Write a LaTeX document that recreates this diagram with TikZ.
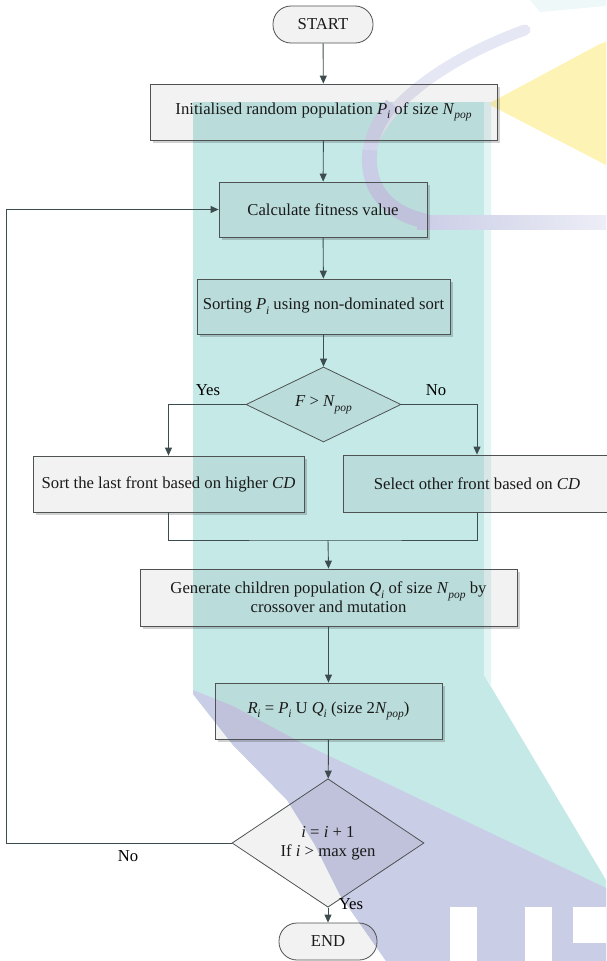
\documentclass[tikz,border=0pt]{standalone}
\usepackage{fontspec}
\setmainfont{Liberation Serif}
\usetikzlibrary{arrows.meta,shapes.geometric,calc}

\definecolor{wmteal}{HTML}{C4E9E7}
\definecolor{wmtealedge}{HTML}{E3F4F4}
\definecolor{wmblue}{HTML}{CACDE6}
\definecolor{wmbluelight}{HTML}{E6E7F4}
\definecolor{wmbluemid}{HTML}{D3D5EC}
\definecolor{wmyellow}{HTML}{FDF3B5}
\definecolor{wmfaint}{HTML}{EEF8F8}
\definecolor{lnk}{HTML}{3D4D4F}
\definecolor{boxline}{HTML}{4E5252}
\definecolor{txt}{HTML}{1A1A1A}

% body text size and subscripted symbols
\newcommand{\mainsz}{\fontsize{16.7}{19}\selectfont}
\newcommand{\isub}[2]{\textit{#1}\kern-0.3pt\raisebox{-0.28em}{\fontsize{11.5}{12}\selectfont\textit{#2}}}
% soft shadow along the lower and right edges of a box
\newcommand{\boxshade}[1]{%
  \draw[shade line] ($(#1.south west)+(3,1.6)$) -- ($(#1.south east)+(1.6,1.6)$) -- ($(#1.north east)+(1.6,3)$);}

\tikzset{
  flowbox/.style={draw=boxline, line width=0.8pt, fill=black, fill opacity=0.05,
    text opacity=1, text=txt, inner sep=0pt, align=center, font=\mainsz},
  termbox/.style={flowbox, rounded corners=18pt},
  decide/.style={flowbox, diamond},
  link/.style={draw=lnk, line width=0.9pt, -{Triangle[length=8pt,width=7pt]}},
  plain/.style={draw=lnk, line width=0.9pt},
  tag/.style={font=\mainsz, text=black, inner sep=0pt},
  shade line/.style={draw=black, draw opacity=0.18, line width=2pt},
}

\begin{document}
\begin{tikzpicture}[x=1pt,y=-1pt]
\useasboundingbox (0,0) rectangle (606,961);

% ---- faint logo watermark in the background ----
\fill[wmfaint] (530,0) -- (606,0) -- (606,6) -- (540,12) -- cycle;
\fill[wmyellow] (488,104) -- (598,45) .. controls (602,43) and (606,42) .. (606,42)
  -- (606,165) -- cycle;
\fill[wmteal] (193,102) -- (484,102) -- (484,675) -- (606,880) -- (606,961) -- (386,961)
  -- (340,895) -- (315,845) -- (287,800) -- (233,745) -- (193,694) -- cycle;
\fill[wmtealedge] (484,102) -- (491,102) -- (491,685) -- (484,675) -- cycle;
\fill[wmblue] (193,690) -- (233,706) -- (300,742) -- (606,888) -- (606,961)
  -- (386,961) -- (340,895) -- (315,845) -- (287,800) -- (233,745) -- (193,694) -- cycle;
\fill[white] (450,907) rectangle (477,961);
\fill[white] (525,907) rectangle (552,961);
\fill[white] (573,907) rectangle (606,943);
% curved stroke of the logo, fading towards its upper end
\draw[wmbluelight, line width=11pt, line cap=round] (525,30) .. controls (455,55) and (385,100) .. (370,150);
\draw[wmbluemid, line width=14pt] (392,104) .. controls (378,122) and (372,136) .. (370,150);
\draw[wmblue, line width=15pt] (370,150) .. controls (365,192) and (392,214) .. (425,221);
\fill[left color=wmblue, right color=wmblue!35] (417,215) rectangle (606,229);

% ---- flowchart steps ----
\node[termbox, minimum width=100pt, minimum height=37pt] (start) at (323,24.5) {START};
\node[flowbox, minimum width=347pt, minimum height=56pt] (init) at (323.5,112)
  {Initialised random population \isub{P}{i} of size \isub{N}{pop}};
\node[flowbox, minimum width=208pt, minimum height=55pt] (calc) at (323,209.5)
  {Calculate fitness value};
\node[flowbox, minimum width=253pt, minimum height=55pt] (sort) at (323.5,306.5)
  {Sorting \isub{P}{i} using non-dominated sort};
\node[decide, minimum width=155pt, minimum height=59pt] (d1) at (323.5,404.5)
  {\textit{F} > \isub{N}{pop}};
\node[flowbox, minimum width=271pt, minimum height=56pt] (lbox) at (168.5,484)
  {Sort the last front based on higher \textit{CD}};
\node[flowbox, minimum width=268pt, minimum height=57pt] (rbox) at (477,483.5)
  {Select other front based on \textit{CD}};
\node[flowbox, minimum width=377pt, minimum height=57pt] (gen) at (328.5,597.5)
  {Generate children population \isub{Q}{i} of size \isub{N}{pop} by\\crossover and mutation};
\node[flowbox, minimum width=227pt, minimum height=56pt] (rset) at (328.5,711)
  {\isub{R}{i} = \isub{P}{i} U \isub{Q}{i} (size 2\isub{N}{pop})};
\node[decide, minimum width=192pt, minimum height=92pt] (d2) at (328,843)
  {\textit{i} = \textit{i} + 1\\If \textit{i} > max gen};
\node[termbox, minimum width=98pt, minimum height=37pt] (end) at (328,941.5) {END};

\boxshade{init}
\boxshade{calc}
\boxshade{sort}
\boxshade{lbox}
\boxshade{gen}
\boxshade{rset}

% ---- connectors ----
\coordinate (merge) at (328,540);
\coordinate (loopx) at (6.5,500);

\draw[link] (start) -- (init);
\draw[link] (init) -- (calc);
\draw[link] (calc) -- (sort);
\draw[link] (sort) -- (d1);
\draw[link] (d1.west) -| (lbox.north);
\draw[link] (d1.east) -| (rbox.north);
\draw[plain] (lbox.south) |- (merge) -| (rbox.south);
\draw[link] (merge) -- (gen.north);
\draw[link] (gen) -- (rset);
\draw[link] (rset) -- (d2);
\draw[link] (d2) -- (end);
\draw[link] (d2.west) -- (d2.west -| loopx) |- (calc.west);

% ---- branch labels ----
\node[tag] (yes1) at (208,390) {Yes};
\node[tag] (no1) at (436,390) {No};
\node[tag] (no2) at (128,856) {No};
\node[tag] (yes2) at (351,904) {Yes};
\end{tikzpicture}
\end{document}
